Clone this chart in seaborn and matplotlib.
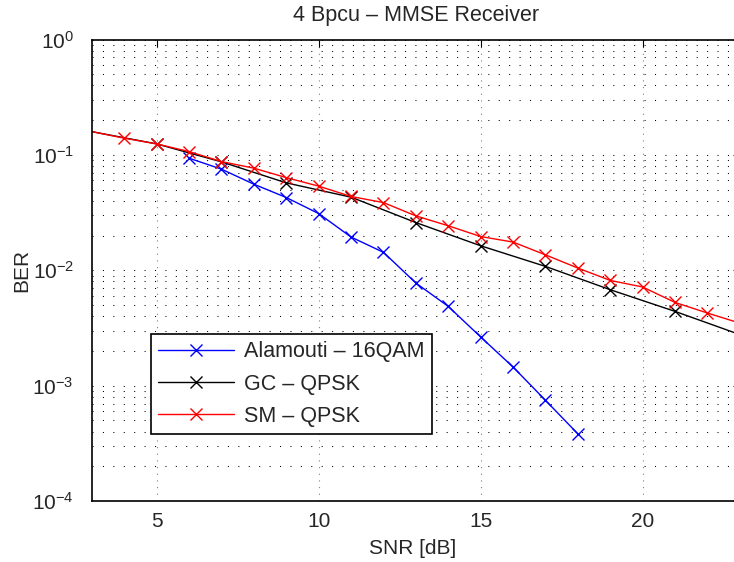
import numpy as np
import pandas as pd
import matplotlib
matplotlib.use("Agg")
import matplotlib.pyplot as plt
import seaborn as sns
from matplotlib.ticker import LogLocator, FixedLocator

# SNR points (dB) for each scheme
snr_alamouti = [6, 7, 8, 9, 10, 11, 12, 13, 14, 15, 16, 17, 18]
ber_alamouti = [0.0936, 0.0752, 0.0557, 0.0427, 0.0310, 0.0194, 0.0143,
                0.00775, 0.00486, 0.00264, 0.00145, 0.000746, 0.000382]

snr_gc = [3, 5, 7, 9, 11, 13, 15, 17, 19, 21, 23]
ber_gc = [0.159, 0.1245, 0.087, 0.0572, 0.0430, 0.0259, 0.0163, 0.0108,
          0.00678, 0.00440, 0.00277]

snr_sm = [3, 4, 5, 6, 7, 8, 9, 10, 11, 12, 13, 14, 15, 16, 17, 18, 19, 20, 21, 22, 23]
ber_sm = [0.159, 0.1395, 0.1245, 0.1068, 0.0875, 0.0767, 0.0635, 0.0536, 0.0436,
          0.0386, 0.0296, 0.0243, 0.0196, 0.01755, 0.0136, 0.01045, 0.00816,
          0.00716, 0.00526, 0.00426, 0.00348]

labels = ["Alamouti \u2013 16QAM", "GC \u2013 QPSK", "SM \u2013 QPSK"]
colors = ["blue", "black", "red"]

sns.set_style("white")
plt.rcParams['font.family'] = ['Liberation Sans', 'DejaVu Sans']
plt.rcParams['mathtext.fontset'] = 'custom'
plt.rcParams['mathtext.rm'] = 'Liberation Sans'
plt.rcParams['mathtext.it'] = 'Liberation Sans:italic'

fig = plt.figure(figsize=(7.34, 5.62), dpi=100)
ax = fig.add_axes([0.1252, 0.1085, 0.8828, 0.8212])

series = [(snr_alamouti, ber_alamouti), (snr_gc, ber_gc), (snr_sm, ber_sm)]
for (x, y), lab, col in zip(series, labels, colors):
    df = pd.DataFrame({"SNR": x, "BER": y})
    sns.lineplot(data=df, x="SNR", y="BER", ax=ax, color=col, marker="x",
                 markersize=8, markeredgewidth=1, markeredgecolor=col,
                 linewidth=1, label=lab, dashes=False)

# first point of GC / SM sits on the left edge: no marker there
for line in ax.lines[1:3]:
    line.set_linestyle("-")
    line.set_markevery(slice(1, None))
ax.lines[0].set_linestyle("-")

ax.set_yscale("log")
ax.set_xlim(3, 23)
ax.set_ylim(1e-4, 1)
ax.xaxis.set_major_locator(FixedLocator([5, 10, 15, 20]))
ax.yaxis.set_major_locator(LogLocator(base=10, numticks=10))
ax.yaxis.set_minor_locator(LogLocator(base=10, subs=np.arange(2, 10), numticks=10))

ax.grid(True, which="major", axis="x", color="gray", linestyle=(0, (1, 5)), linewidth=0.8)
ax.grid(True, which="both", axis="y", color="black", linestyle=(0, (1, 9)), linewidth=0.75)

ax.tick_params(which="both", direction="in", labelsize=15, top=True, right=True,
               color="black")
ax.tick_params(which="major", length=5)
ax.tick_params(which="minor", length=3)
ax.tick_params(axis="x", pad=8)
ax.tick_params(axis="y", pad=13)
for sp in ax.spines.values():
    sp.set_color("black")
    sp.set_linewidth(1.2)

ax.set_title("4 Bpcu \u2013 MMSE Receiver", fontsize=15.5, pad=13.5)
ax.set_xlabel("SNR [dB]", fontsize=15)
ax.xaxis.set_label_coords(0.4955, -0.082)
ax.set_ylabel("BER", fontsize=15)
ax.yaxis.set_label_coords(-0.093, 0.5)

leg = ax.legend(loc="upper left", bbox_to_anchor=(0.0907, 0.362), borderaxespad=0,
                fontsize=15.5, frameon=True, fancybox=False, handlelength=3.5,
                labelspacing=0.52, borderpad=0.35, handletextpad=0.5)
leg.get_frame().set_edgecolor("black")
leg.get_frame().set_linewidth(1.2)
leg.get_frame().set_alpha(1)

fig.savefig("out.png", dpi=100)
